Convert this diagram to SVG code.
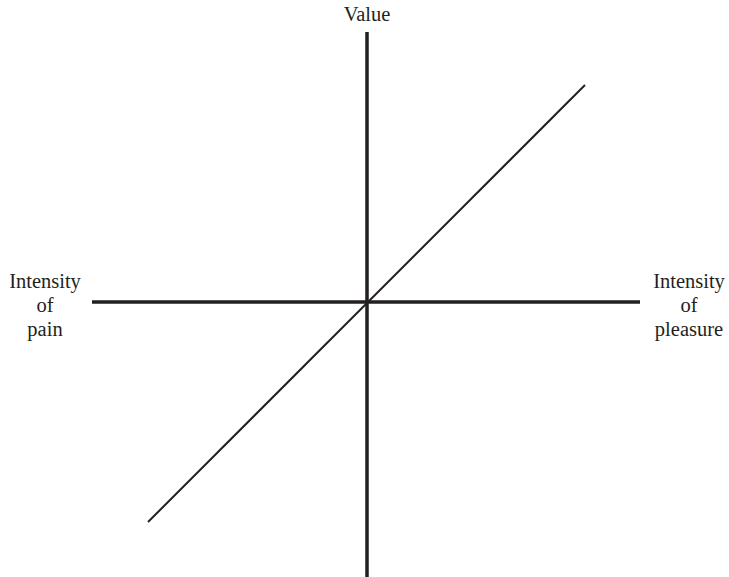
<svg xmlns="http://www.w3.org/2000/svg" width="729" height="577" viewBox="0 0 729 577">
<style>
text{font-family:"Liberation Serif",serif;font-size:20.5px;fill:#231f20;text-anchor:middle}
.axis{stroke:#231f20;stroke-width:3.5;fill:none}
.curve{stroke:#231f20;stroke-width:2;fill:none}
</style>
<rect width="729" height="577" fill="#fff"/>
<g id="connectors">
<line class="axis" x1="367" y1="32" x2="367" y2="577"/>
<line class="axis" x1="92" y1="302" x2="640" y2="302"/>
<line class="curve" x1="148" y1="522" x2="585" y2="85"/>
</g>
<g id="label-value"><text x="367" y="21">Value</text></g>
<g id="label-pain"><text x="45" y="288">Intensity</text><text x="45" y="312">of</text><text x="45" y="336">pain</text></g>
<g id="label-pleasure"><text x="689" y="288">Intensity</text><text x="689" y="312">of</text><text x="689" y="336">pleasure</text></g>
</svg>
